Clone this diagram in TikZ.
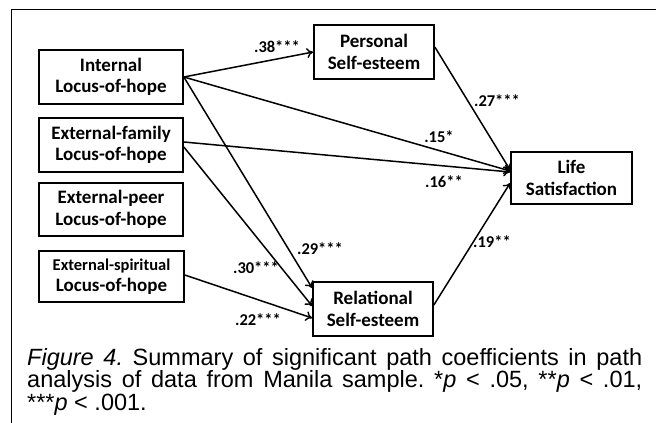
\documentclass[tikz,border=0pt]{standalone}
\usepackage{fontspec}
\setmainfont{Liberation Sans}
\newfontfamily\boxfont{Carlito}
\usetikzlibrary{arrows.meta}
\tikzset{
  varbox/.style={draw, line width=1.7pt, align=center, inner sep=0pt,
    font=\boxfont\bfseries\fontsize{19}{21.5}\selectfont},
  path/.style={line width=1.5pt, -{To[length=6.5pt,width=10pt,line width=1.4pt]}},
  coef/.style={font=\boxfont\bfseries\fontsize{16.5}{19}\selectfont, inner sep=0pt},
}
\begin{document}
\begin{tikzpicture}[x=1pt,y=-1pt]
\useasboundingbox (0,0) rectangle (656,423);
\fill[white] (0,0) rectangle (656,423);
% frame
\draw[line width=1pt] (656,9) -- (11,9) -- (11,423);
% nodes
\node[varbox, minimum width=144pt, minimum height=54pt] (int) at (111,77) {Internal\\Locus-of-hope};
\node[varbox, minimum width=144pt, minimum height=54pt] (fam) at (111,145) {External-family\\Locus-of-hope};
\node[varbox, minimum width=144pt, minimum height=53pt] (peer) at (111,209.5) {External-peer\\Locus-of-hope};
\node[varbox, minimum width=145pt, minimum height=51pt] (spir) at (111.5,276.5) {{\fontsize{16.5}{21.5}\selectfont External-spiritual}\\Locus-of-hope};
\node[varbox, minimum width=120pt, minimum height=54pt] (pers) at (374,52) {Personal\\Self-esteem};
\node[varbox, minimum width=121pt, minimum height=52pt] (life) at (571.5,178) {Life\\Satisfaction};
\node[varbox, minimum width=120pt, minimum height=54pt] (rel) at (373,309) {Relational\\Self-esteem};
% paths
\draw[path] (int.east) -- (pers.west);
\draw[path] (int.east) -- ([yshift=7pt]life.west);
\draw[path] (int.east) -- ([yshift=21pt]rel.west);
\draw[path] ([yshift=3pt]fam.east) -- ([yshift=6pt]life.west);
\draw[path] ([yshift=-2pt]fam.east) -- ([yshift=3pt]rel.west);
\draw[path] ([yshift=1.5pt]spir.east) -- ([yshift=-9pt]rel.west);
\draw[path] ([yshift=5pt]pers.east) -- ([yshift=8pt]life.west);
\draw[path] ([yshift=4pt]rel.east) -- ([yshift=-5pt]life.west);
% coefficients
\node[coef] (c38) at (277,47) {.38***};
\node[coef] (c27) at (497,101) {.27***};
\node[coef] (c15) at (439,137) {.15*};
\node[coef] (c16) at (444,182) {.16**};
\node[coef] (c19) at (492,242) {.19**};
\node[coef] (c29) at (320,249) {.29***};
\node[coef] (c30) at (256,268) {.30***};
\node[coef] (c22) at (258,320) {.22***};
% caption
\node[anchor=base west, inner sep=0pt] (cap) at (27,365) {\parbox[t]{615pt}{\fontsize{23.5}{20.5}\selectfont\frenchspacing
\textit{Figure 4.} Summary of significant path coefficients in path\linebreak
analysis of data from Manila sample. *\textit{p} {<} .05, **\textit{p} {<} .01,\linebreak
***\textit{p} {<} .001.}};
\end{tikzpicture}
\end{document}
